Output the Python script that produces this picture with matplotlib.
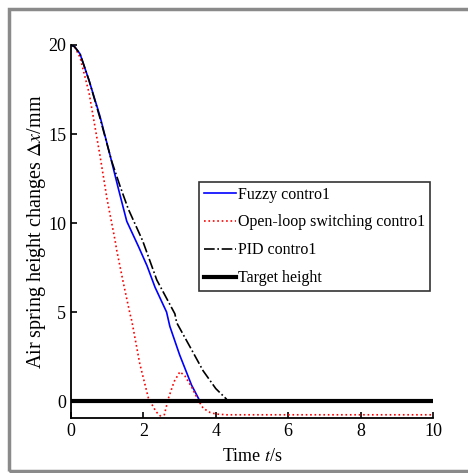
import matplotlib
matplotlib.use('Agg')
import matplotlib.pyplot as plt
from matplotlib.patches import Rectangle

# данные
fuzzy_t = [0, 0.1, 0.25, 0.5, 0.8, 1.08, 1.3, 1.54, 1.86, 2.1, 2.32, 2.64, 2.73, 3.0, 3.33, 3.56]
fuzzy_y = [20, 19.9, 19.5, 18.0, 16.0, 13.8, 12.0, 10.1, 8.7, 7.6, 6.4, 5.0, 4.2, 2.6, 0.9, 0.0]

open_t = [0, 0.1, 0.25, 0.5, 0.8, 1.0, 1.22, 1.26, 1.45, 1.63, 1.68, 1.9, 2.14, 2.35, 2.55, 2.69, 2.85, 3.01, 3.15, 3.33, 3.5, 3.65, 3.85, 4.02, 4.3, 6, 8, 10]
open_y = [20, 19.9, 19.3, 17.3, 13.8, 11.3, 9.0, 8.5, 6.6, 4.9, 4.5, 2.1, 0.15, -0.6, -1.0, 0.15, 1.1, 1.65, 1.4, 0.8, 0.1, -0.4, -0.65, -0.73, -0.77, -0.77, -0.77, -0.77]

pid_t = [0, 0.1, 0.25, 0.5, 0.8, 1.12, 1.35, 1.58, 1.98, 2.37, 2.87, 2.92, 3.3, 3.65, 4.0, 4.3]
pid_y = [20, 19.9, 19.5, 18.0, 15.9, 13.5, 12.1, 10.8, 9.0, 6.8, 4.9, 4.4, 3.0, 1.7, 0.7, 0.1]

target_t = [0, 10]
target_y = [0, 0]

labels = ['Fuzzy contro1', 'Open-loop switching contro1', 'PID contro1', 'Target height']

plt.rcParams['font.family'] = ['Liberation Serif', 'DejaVu Serif']
plt.rcParams['mathtext.fontset'] = 'stix'

fig = plt.figure(figsize=(4.68, 4.73), dpi=100)
# серая рамка вокруг рисунка
fig.patches.append(Rectangle((0.0199, 0.004), 1.2, 0.976, transform=fig.transFigure,
                             fill=False, edgecolor='#8a8a8a', linewidth=2.5))
ax = fig.add_axes([0.1517, 0.1163, 0.7735, 0.7886])

ax.plot(fuzzy_t, fuzzy_y, color='blue', linewidth=1.2, label=labels[0])
ax.plot(open_t, open_y, color='red', linestyle=':', linewidth=1.2, label=labels[1])
ax.plot(pid_t, pid_y, color='black', linestyle='-.', linewidth=1.2, label=labels[2])
ax.plot(target_t, target_y, color='black', linewidth=3, label=labels[3])

ax.set_xlim(0, 10)
ax.set_ylim(-0.95, 20)
ax.set_xticks([0, 2, 4, 6, 8, 10])
ax.set_yticks([0, 5, 10, 15, 20])
ax.tick_params(direction='in', labelsize=13, length=4, width=1.2)
ax.spines['top'].set_visible(False)
ax.spines['right'].set_visible(False)
ax.spines['left'].set_linewidth(1.3)
ax.spines['bottom'].set_linewidth(1.3)

ax.set_xlabel('Time $\\it{t}$/s', fontsize=13, labelpad=6)
ax.set_ylabel('Air spring height changes $\\Delta\\it{x}$/mm', fontsize=14.5, labelpad=0)

leg = ax.legend(loc='upper left', bbox_to_anchor=(0.354, 0.633), fontsize=11.5,
                frameon=True, fancybox=False, edgecolor='black', handlelength=2.0,
                handletextpad=0.15, labelspacing=0.74, borderpad=0.3, borderaxespad=0)
leg.get_frame().set_linewidth(1.2)

fig.savefig('out.png', dpi=100)
